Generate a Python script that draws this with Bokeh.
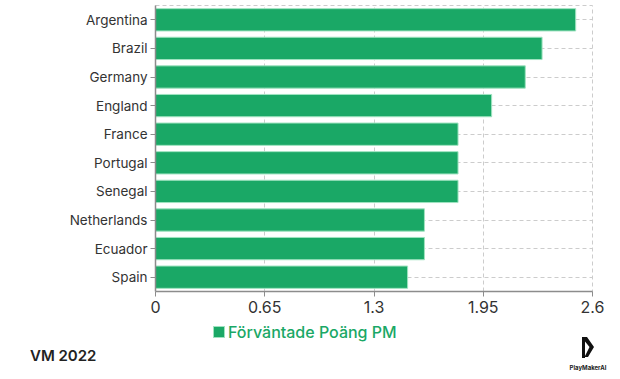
from bokeh.plotting import figure
from bokeh.layouts import column
from bokeh.models import Range1d, FactorRange, FixedTicker, Div, ColumnDataSource
from bokeh.embed import file_html
from bokeh.resources import INLINE

teams = ["Argentina", "Brazil", "Germany", "England", "France", "Portugal",
         "Senegal", "Netherlands", "Ecuador", "Spain"]
points = [2.5, 2.3, 2.2, 2.0, 1.8, 1.8, 1.8, 1.6, 1.6, 1.5]
x_ticks = [0, 0.65, 1.3, 1.95, 2.6]
x_tick_labels = ["0", "0.65", "1.3", "1.95", "2.6"]
series_name = "Förväntade Poäng PM"
footer_text = "VM 2022"
brand = "PlayMakerAI"

GREEN = "#1aa866"
BAR_LINE = "#9fe3c0"
FONT = "Inter"

src = ColumnDataSource(dict(team=teams, val=points))

W = 616
H_MAIN = 322
H_FOOT = 53

p = figure(width=W, height=H_MAIN, output_backend="svg", toolbar_location=None,
           y_range=FactorRange(factors=list(reversed(teams)), range_padding=0),
           x_range=Range1d(0, 2.6),
           min_border_left=155, min_border_right=W - 592, min_border_top=5,
           min_border_bottom=H_MAIN - 291)

r = p.hbar(y="team", right="val", height=0.78, source=src,
           fill_color=GREEN, line_color=BAR_LINE, line_width=1,
           legend_label=series_name)
p.legend.visible = False

p.xaxis.ticker = FixedTicker(ticks=x_ticks)
p.xaxis.major_label_overrides = {t: l for t, l in zip(x_ticks, x_tick_labels)}
for ax in (p.xaxis[0], p.yaxis[0]):
    ax.axis_line_color = "#8c8c8c"
    ax.axis_line_width = 1.5
    ax.major_tick_line_color = "#8c8c8c"
    ax.minor_tick_line_color = None
    ax.major_tick_in = 0
    ax.major_tick_out = 5
    ax.major_label_text_font = FONT
    ax.major_label_text_color = "#333333"
p.xaxis.major_label_text_font_size = "16px"
p.xaxis.major_label_standoff = 4
p.yaxis.major_label_text_font_size = "13.5px"
p.yaxis.major_label_standoff = 3

p.xgrid.grid_line_color = "#cccccc"
p.xgrid.grid_line_dash = "4 3"
p.ygrid.grid_line_color = "#cccccc"
p.ygrid.grid_line_dash = "4 3"
p.outline_line_color = "#cccccc"
p.outline_line_dash = "4 3"

footer_html = f"""
<div style="position:relative;width:{W}px;height:{H_FOOT}px;font-family:'{FONT}',sans-serif;">
  <div style="position:absolute;left:213px;top:0px;height:20px;display:flex;align-items:center;">
    <span style="display:inline-block;width:12px;height:12px;background:{GREEN};
                 box-shadow:inset 0 0 0 1px {BAR_LINE};"></span>
    <span style="margin-left:3px;color:{GREEN};font-size:16px;font-weight:500;
                 line-height:20px;white-space:nowrap;">{series_name}</span>
  </div>
  <div style="position:absolute;left:30px;top:24px;height:20px;line-height:20px;
              color:#222222;font-size:15px;font-weight:600;white-space:nowrap;">{footer_text}</div>
  <svg style="position:absolute;left:581px;top:15px;" width="16" height="22" viewBox="0 0 16 22">
    <path d="M1 0 L6 0 L13 10 L7 20 L3.5 20 L8.5 10 L4 4.5 L4 21 L1 21 Z" fill="#111111"/>
  </svg>
  <div style="position:absolute;left:568px;top:42px;width:40px;text-align:center;
              color:#222222;font-size:6px;font-weight:700;line-height:8px;white-space:nowrap;">{brand}</div>
</div>
"""
footer = Div(text=footer_html, width=W, height=H_FOOT, margin=(0, 0, 0, 0))

open("out.html", "w").write(file_html(column(p, footer, spacing=0), INLINE))
